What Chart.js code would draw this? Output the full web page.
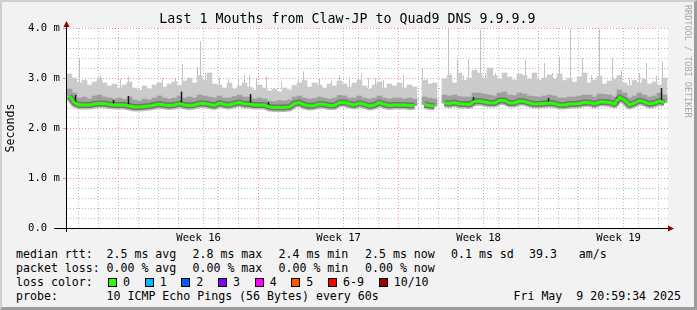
<!DOCTYPE html>
<html lang="en">
<head>
<meta charset="UTF-8">
<title>Last 1 Mouths from Claw-JP to Quad9 DNS 9.9.9.9</title>
<script src="https://cdn.jsdelivr.net/npm/chart.js"></script>
<style>
    html, body { margin: 0; padding: 0; }
    body {
        width: 697px; height: 310px; position: relative; overflow: hidden;
        font-family: "DejaVu Sans Mono", monospace; color: #000;
    }
    #frame {
        position: absolute; left: 0; top: 0; width: 697px; height: 310px; box-sizing: border-box;
        background: #f2f2f2;
        border-top: 2px solid #d0d0d0; border-left: 2px solid #d0d0d0;
        border-right: 3px solid #9c9c9c; border-bottom: 3px solid #9c9c9c;
    }
    #chart { position: absolute; left: 0; top: 0; }
    #title {
        position: absolute; left: -1px; top: 11px; width: 697px; text-align: center;
        font-size: 13.3px; line-height: 16px; white-space: pre;
    }
    #rrd {
        position: absolute; left: 682px; top: 5px; writing-mode: vertical-rl;
        font-size: 8.5px; color: #a8a8a8; white-space: pre; line-height: 11px;
    }
    .row { position: absolute; left: 0; width: 697px; height: 14px; font-size: 11.6px; line-height: 14px; }
    .row span.t { position: absolute; white-space: pre; }
    .box {
        display: inline-block; width: 7px; height: 7px; border: 1px solid #000;
        margin-right: 6px; vertical-align: -1px;
    }
    .entry { margin-right: 14.7px; white-space: pre; }
    #lossItems { position: absolute; left: 108px; white-space: pre; }
    #stamp { position: absolute; right: 16px; white-space: pre; }
</style>
</head>
<body>
<div id="frame"></div>
<canvas id="chart" width="697" height="245"></canvas>
<div id="title">Last 1 Mouths from Claw-JP to Quad9 DNS 9.9.9.9</div>
<div id="rrd">RRDTOOL / TOBI OETIKER</div>
<div class="row" style="top:247px">
    <span class="t" style="left:16px">median rtt:</span>
    <span class="t" style="left:106.5px">2.5 ms avg</span>
    <span class="t" style="left:192.5px">2.8 ms max</span>
    <span class="t" style="left:278.5px">2.4 ms min</span>
    <span class="t" style="left:365px">2.5 ms now</span>
    <span class="t" style="left:451px">0.1 ms sd</span>
    <span class="t" style="left:529px">39.3</span>
    <span class="t" style="left:578.7px">am/s</span>
</div>
<div class="row" style="top:261px">
    <span class="t" style="left:16px">packet loss:</span>
    <span class="t" style="left:106.5px">0.00 % avg</span>
    <span class="t" style="left:192.5px">0.00 % max</span>
    <span class="t" style="left:278.5px">0.00 % min</span>
    <span class="t" style="left:365px">0.00 % now</span>
</div>
<div class="row" style="top:275px">
    <span class="t" style="left:16px">loss color:</span>
    <span id="lossItems"></span>
</div>
<div class="row" style="top:289px">
    <span class="t" style="left:16px">probe:</span>
    <span class="t" style="left:106.5px">10 ICMP Echo Pings (56 Bytes) every 60s</span>
    <span id="stamp">Fri May  9 20:59:34 2025</span>
</div>

<script>
// one sample every 6 hours (0.25 day), 30 days
const stepDay = 0.25;
const firstDay = 0.125;

// median rtt (ms), null = no data
const median = [
    2.64, 2.50, 2.46, 2.46, 2.46, 2.48, 2.49, 2.49, 2.47, 2.46, 2.46, 2.46, 2.44,
    2.42, 2.42, 2.43, 2.44, 2.46, 2.48, 2.46, 2.45, 2.46, 2.49, 2.46,
    2.45, 2.46, 2.49, 2.49, 2.47, 2.45,
    2.50, 2.47, 2.46, 2.49, 2.51, 2.48, 2.48, 2.46, 2.46, 2.46,
    2.42, 2.41, 2.41, 2.41, 2.42, 2.49, 2.51,
    2.46, 2.44, 2.45, 2.48, 2.47, 2.45, 2.45, 2.51, 2.51, 2.48,
    2.46, 2.50, 2.47, 2.44, 2.46, 2.51, 2.47, 2.45, 2.46, 2.46, 2.46, 2.45, 2.45,
    null,
    2.47, 2.45, 2.44,
    null,
    2.50, 2.49, 2.51, 2.48, 2.48, 2.47, 2.53,
    2.54, 2.52, 2.50, 2.50, 2.55, 2.55, 2.50, 2.50, 2.54,
    2.53, 2.50, 2.48, 2.48, 2.49, 2.50, 2.49, 2.46, 2.46, 2.48,
    2.48, 2.49, 2.51, 2.51, 2.48, 2.52, 2.52, 2.51, 2.48, 2.61,
    2.56, 2.46, 2.50, 2.55, 2.52, 2.48, 2.50, 2.54, 2.51
];

// upper edge of the dense (darker) smoke
const smokeMid = [
    2.78, 2.70, 2.60, 2.62, 2.58, 2.64, 2.66, 2.62, 2.60, 2.58, 2.60, 2.57, 2.62,
    2.56, 2.54, 2.58, 2.56, 2.60, 2.64, 2.60, 2.58, 2.60, 2.64, 2.60,
    2.62, 2.60, 2.66, 2.64, 2.62, 2.60,
    2.64, 2.60, 2.60, 2.63, 2.66, 2.62, 2.62, 2.58, 2.60, 2.58,
    2.54, 2.53, 2.55, 2.54, 2.56, 2.62, 2.64,
    2.60, 2.58, 2.59, 2.62, 2.60, 2.58, 2.60, 2.65, 2.64, 2.60,
    2.60, 2.64, 2.60, 2.58, 2.60, 2.64, 2.60, 2.58, 2.60, 2.60, 2.58, 2.60, 2.58,
    null,
    2.62, 2.60, 2.58,
    null,
    2.66, 2.64, 2.66, 2.63, 2.62, 2.62, 2.70,
    2.70, 2.68, 2.66, 2.64, 2.70, 2.72, 2.66, 2.65, 2.70,
    2.68, 2.64, 2.63, 2.62, 2.64, 2.66, 2.64, 2.60, 2.60, 2.62,
    2.62, 2.64, 2.66, 2.66, 2.62, 2.68, 2.67, 2.66, 2.62, 2.76,
    2.70, 2.60, 2.64, 2.70, 2.66, 2.62, 2.64, 2.70, 2.66
];

// upper edge of the light smoke
const smokeTop = [
    3.08, 3.00, 2.90, 2.95, 2.86, 2.92, 3.00, 2.90, 2.84, 2.88, 2.80, 2.86, 2.92,
    2.80, 2.76, 2.84, 2.78, 2.86, 2.90, 2.82, 2.88, 2.92, 2.85, 2.94,
    3.00, 2.90, 3.05, 2.95, 3.10, 2.88,
    2.86, 2.80, 2.90, 2.78, 2.84, 2.90, 2.82, 2.76, 2.86, 2.80,
    2.74, 2.78, 2.72, 2.80, 2.76, 2.85, 2.90,
    2.95, 2.82, 2.90, 2.86, 2.80, 2.88, 2.84, 2.94, 2.88, 2.82,
    2.90, 2.96, 2.84, 2.78, 2.86, 2.92, 2.80, 2.88, 2.84, 2.90, 2.80, 2.86, 2.82,
    null,
    2.95, 2.88, 2.90,
    null,
    2.98, 3.05, 2.90, 3.10, 2.95, 3.00, 3.15,
    3.10, 3.00, 3.20, 3.05, 2.98, 3.10, 3.02, 2.96, 3.08,
    3.05, 2.98, 3.10, 2.96, 3.00, 3.06, 2.98, 3.08, 2.95, 3.00,
    2.92, 3.02, 3.10, 2.90, 2.96, 3.04, 2.88, 2.94, 2.98, 3.05,
    2.90, 2.85, 2.95, 2.90, 2.98, 2.88, 2.92, 2.86, 3.00
];

// single high pings (day, ms)
const spikeTimes = [0.625, 0.925, 1.675, 2.675, 3.075, 4.775, 5.425, 5.775, 6.525, 6.675,
    6.925, 7.625, 8.075, 8.575, 8.875, 9.125, 9.475, 9.975, 10.725, 11.575,
    11.825, 12.625, 13.225, 13.625, 14.125, 14.725, 15.075, 15.425, 15.825, 16.825,
    17.775, 18.025, 19.075, 19.175, 19.525, 19.825, 20.075, 20.425, 20.675, 20.925,
    21.275, 21.425, 22.175, 22.675, 22.925, 23.375, 23.875, 24.275, 24.625, 25.175,
    25.775, 26.225, 26.625, 27.275, 27.725, 28.125, 28.625, 28.975, 29.475, 29.775];
const spikeTops = [3.40, 3.00, 3.05, 2.98, 3.03, 3.00, 2.98, 3.28, 3.22, 3.73,
    3.10, 3.00, 2.98, 3.00, 3.05, 3.06, 2.98, 3.03, 2.93, 3.00,
    3.13, 3.00, 2.95, 3.05, 3.02, 3.10, 3.00, 3.00, 2.95, 3.05,
    3.20, 3.00, 3.98, 3.10, 3.36, 3.05, 3.37, 3.20, 3.97, 3.10,
    3.20, 3.10, 3.00, 3.05, 3.35, 3.10, 3.30, 3.10, 3.43, 3.98,
    3.40, 3.05, 3.98, 3.40, 3.15, 3.00, 3.10, 3.30, 3.05, 3.33];
const spikeBase = 2.8;

// dark jumps in the smoke
const darkTimes = [0.425, 2.325, 3.075, 5.725, 9.175, 10.075, 20.325, 24.075, 27.525, 29.725];
const darkLows = [2.46, 2.46, 2.43, 2.47, 2.48, 2.42, 2.48, 2.48, 2.50, 2.50];
const darkHighs = [2.66, 2.56, 2.64, 2.73, 2.68, 2.52, 2.62, 2.60, 2.62, 2.80];

// axes
const xMax = 30.05;
const weekStarts = [3.08, 10.08, 17.08, 24.08];
const weekLabelDays = [6.58, 13.58, 20.58, 27.58];
const weekLabels = ['Week 16', 'Week 17', 'Week 18', 'Week 19'];
const yTickValues = [0, 0.2, 0.4, 0.6, 0.8, 1, 1.2, 1.4, 1.6, 1.8, 2, 2.2, 2.4, 2.6, 2.8, 3, 3.2, 3.4, 3.6, 3.8, 4];
const yTickLabels = ['0.0  ', '1.0 m', '2.0 m', '3.0 m', '4.0 m'];

// legend
const lossLabels = ['0', '1', '2', '3', '4', '5', '6-9', '10/10'];
const lossColors = ['#26ff00', '#00b8ff', '#0059ff', '#7e00ff', '#ff00ff', '#ff5500', '#ff0000', '#a00000'];

const lossItems = document.getElementById('lossItems');
lossLabels.forEach((lab, i) => {
    const s = document.createElement('span');
    s.className = 'entry';
    s.innerHTML = '<span class="box" style="background:' + lossColors[i] + '"></span>' + lab;
    lossItems.appendChild(s);
});

const times = median.map((_, i) => firstDay + i * stepDay);
const dayLines = [];
for (let d = 0; d < 30; d++) dayLines.push(Math.round((0.08 + d) * 100) / 100);
const xTickValues = dayLines.concat(weekLabelDays).sort((a, b) => a - b);

function band(upper) {
    return times.map((x, i) => ({ x: x, y: upper[i] == null ? null : [median[i], upper[i]] }))
        .filter(p => p.y !== null);
}
const medianPts = times.map((x, i) => ({ x: x, y: median[i] }));
const spikePts = [];
spikeTimes.forEach((x, i) => spikePts.push({ x: x, y: spikeBase }, { x: x, y: spikeTops[i] }, { x: x, y: null }));
const darkPts = [];
darkTimes.forEach((x, i) => darkPts.push({ x: x, y: darkLows[i] }, { x: x, y: darkHighs[i] }, { x: x, y: null }));

const minorGrid = 'rgba(165,165,165,0.75)';
const majorGrid = 'rgba(240,110,110,0.75)';
const font = 'DejaVu Sans Mono';

const frame = {
    id: 'frame',
    beforeDraw(chart) {
        const { ctx, chartArea: a } = chart;
        ctx.save();
        ctx.fillStyle = '#ffffff';
        ctx.fillRect(a.left, a.top, a.right - a.left, a.bottom - a.top);
        ctx.restore();
    },
    afterDraw(chart) {
        const { ctx, chartArea: a } = chart;
        ctx.save();
        ctx.lineWidth = 1;
        ctx.strokeStyle = majorGrid;
        for (let v = 1; v <= 4; v++) {
            const y = Math.round(chart.scales.y.getPixelForValue(v)) + 0.5;
            ctx.beginPath(); ctx.moveTo(a.left - 4, y); ctx.lineTo(a.left, y); ctx.stroke();
        }
        ctx.strokeStyle = '#000';
        ctx.beginPath();
        ctx.moveTo(a.left - 13, a.bottom + 0.5); ctx.lineTo(a.right + 2, a.bottom + 0.5);
        ctx.moveTo(a.left - 0.5, a.bottom + 4); ctx.lineTo(a.left - 0.5, a.top - 2);
        ctx.stroke();
        ctx.fillStyle = '#8b0000';
        ctx.beginPath();
        ctx.moveTo(a.left - 3.5, a.top - 1); ctx.lineTo(a.left + 2.5, a.top - 1); ctx.lineTo(a.left - 0.5, a.top - 7);
        ctx.closePath(); ctx.fill();
        ctx.beginPath();
        ctx.moveTo(a.right, a.bottom - 2.5); ctx.lineTo(a.right, a.bottom + 3.5); ctx.lineTo(a.right + 6, a.bottom + 0.5);
        ctx.closePath(); ctx.fill();
        ctx.restore();
    }
};

new Chart(document.getElementById('chart'), {
    type: 'bar',
    data: {
        datasets: [
            { type: 'line', data: medianPts, borderColor: '#26ff00', borderWidth: 3, pointRadius: 0, spanGaps: false, order: 0 },
            { type: 'line', data: darkPts, borderColor: '#1a1a1a', borderWidth: 1.5, pointRadius: 0, spanGaps: false, order: 1 },
            { type: 'line', data: medianPts, borderColor: '#747474', borderWidth: 6, pointRadius: 0, spanGaps: false, borderJoinStyle: 'round', order: 2 },
            { type: 'bar', data: band(smokeMid), backgroundColor: '#a0a0a0', grouped: false, barPercentage: 1, categoryPercentage: 1, order: 3 },
            { type: 'line', data: medianPts, borderColor: '#bababa', borderWidth: 9, pointRadius: 0, spanGaps: false, borderJoinStyle: 'round', order: 4 },
            { type: 'bar', data: band(smokeTop), backgroundColor: '#cbcbcb', grouped: false, barPercentage: 1, categoryPercentage: 1, order: 5 },
            { type: 'line', data: spikePts, borderColor: '#c2c2c2', borderWidth: 1, pointRadius: 0, spanGaps: false, order: 6 }
        ]
    },
    options: {
        responsive: false,
        animation: false,
        events: [],
        layout: { padding: { left: 0, right: 29, top: 28, bottom: 0 } },
        plugins: { legend: { display: false }, tooltip: { enabled: false } },
        scales: {
            x: {
                type: 'linear', min: 0, max: xMax, offset: false,
                afterFit(scale) { scale.height = 17; },
                afterBuildTicks(scale) { scale.ticks = xTickValues.map(value => ({ value })); },
                ticks: {
                    autoSkip: false, maxRotation: 0, minRotation: 0, padding: 4,
                    color: '#000', font: { family: font, size: 10.6 },
                    callback(value) {
                        const i = weekLabelDays.indexOf(value);
                        return i >= 0 ? weekLabels[i] : '';
                    }
                },
                grid: {
                    drawTicks: false,
                    color(ctx) {
                        const v = ctx.tick && ctx.tick.value;
                        if (weekLabelDays.includes(v)) return 'rgba(0,0,0,0)';
                        return weekStarts.includes(v) ? majorGrid : minorGrid;
                    }
                },
                border: { display: false, dash: [1, 2] }
            },
            y: {
                type: 'linear', min: 0, max: 4,
                afterFit(scale) { scale.width = 67; },
                afterBuildTicks(scale) { scale.ticks = yTickValues.map(value => ({ value })); },
                ticks: {
                    autoSkip: false, padding: 7, color: '#000', font: { family: font, size: 10.6 },
                    callback(value) { return Number.isInteger(value) ? yTickLabels[value] : ''; }
                },
                grid: {
                    drawTicks: false,
                    color(ctx) { return Number.isInteger(ctx.tick && ctx.tick.value) ? majorGrid : minorGrid; }
                },
                border: { display: false, dash: [1, 2] },
                title: { display: true, text: 'Seconds', color: '#000', font: { family: font, size: 11.6 }, padding: { top: 4, bottom: 0 } }
            }
        }
    },
    plugins: [frame]
});
</script>
</body>
</html>
